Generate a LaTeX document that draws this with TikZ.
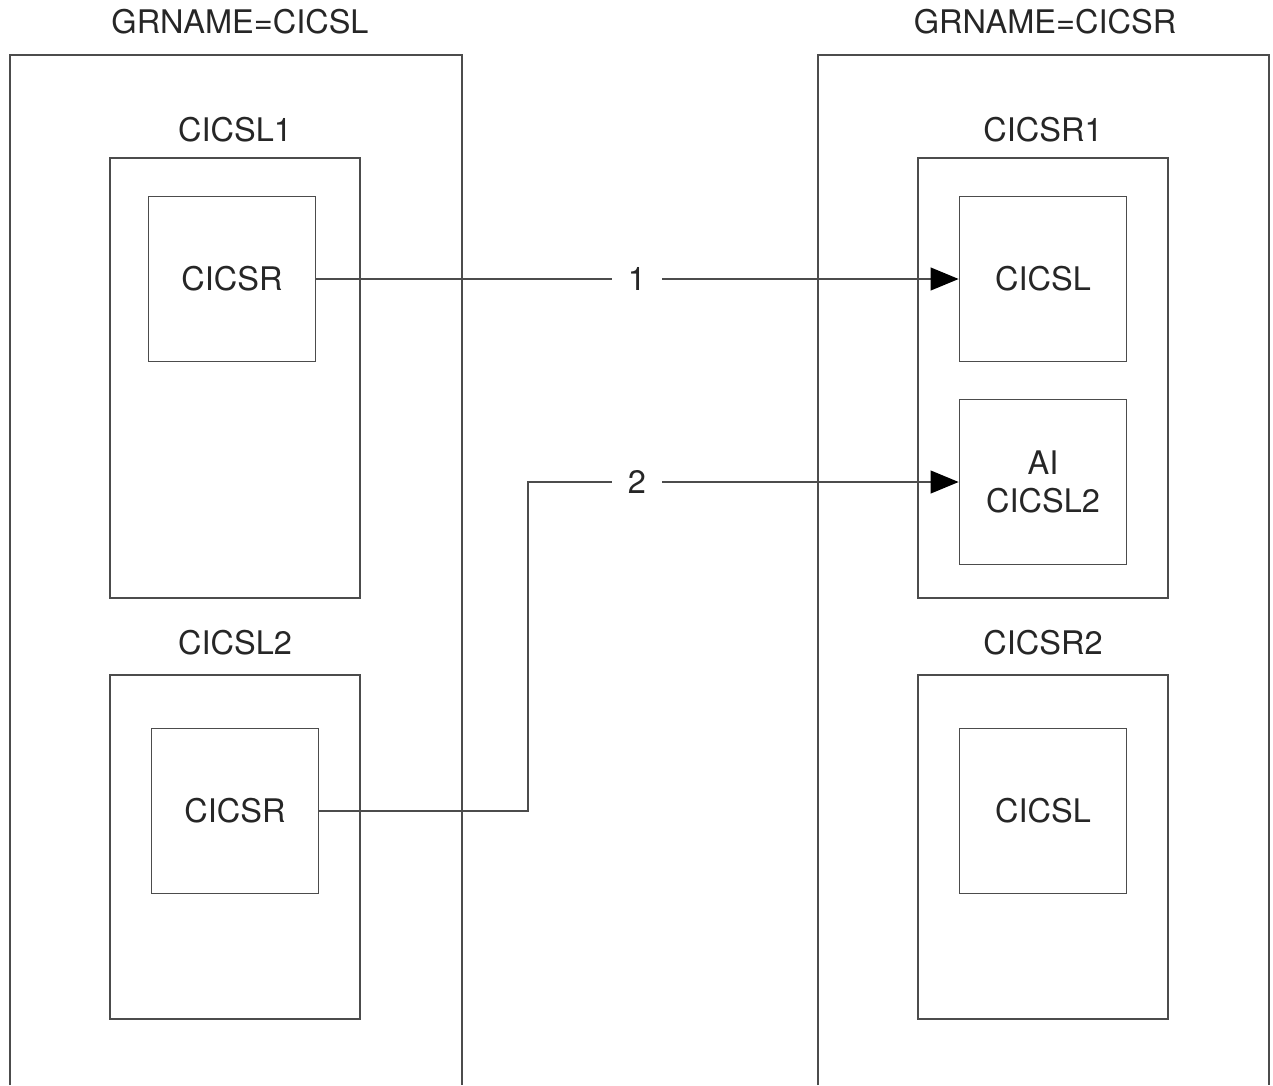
\documentclass[tikz,border=0pt]{standalone}
\usepackage{fontspec}
\setmainfont{TeX Gyre Heros}
\usetikzlibrary{arrows.meta}
\tikzset{
  frame/.style={draw=black!70, line width=1pt},
  sysbox/.style={frame, minimum width=5cm, inner sep=0pt},
  progbox/.style={frame, minimum width=3.34cm, minimum height=3.3cm, inner sep=0pt, align=center},
  flowlabel/.style={minimum width=1cm, inner sep=0pt},
}
\begin{document}
\begin{tikzpicture}[x=0.02cm, y=-0.02cm, >={Triangle[length=16pt,width=13pt,color=black]},
  every node/.style={font=\fontsize{18.5}{22}\selectfont, text=black!85}]
  \useasboundingbox (0,0) rectangle (1273,1085);
  % regions
  \node (grl) at (240,22) {GRNAME=CICSL};
  \node (grr) at (1045,22) {GRNAME=CICSR};
  \draw[frame] (10,1085) |- (462,55) -- (462,1085);
  \draw[frame] (818,1085) |- (1269,55) -- (1269,1085);
  % systems
  \node (lbll1) at (235,130) {CICSL1};
  \node (lbll2) at (235,643) {CICSL2};
  \node (lblr1) at (1043,130) {CICSR1};
  \node (lblr2) at (1043,643) {CICSR2};
  \node[sysbox, minimum height=8.8cm] (cicsl1) at (235,378) {};
  \node[sysbox, minimum height=6.88cm] (cicsl2) at (235,847) {};
  \node[sysbox, minimum height=8.8cm] (cicsr1) at (1043,378) {};
  \node[sysbox, minimum height=6.88cm] (cicsr2) at (1043,847) {};
  % connection definitions
  \node[progbox] (l1r) at (232,279) {CICSR};
  \node[progbox] (l2r) at (235,811) {CICSR};
  \node[progbox] (r1l) at (1043,279) {CICSL};
  \node[progbox] (r1ai) at (1043,482) {AI\\CICSL2};
  \node[progbox] (r2l) at (1043,811) {CICSL};
  % flows
  \node[flowlabel] (n1) at (637,279) {1};
  \node[flowlabel] (n2) at (637,482) {2};
  \coordinate (bend) at (528,811);
  \draw[frame] (l1r.east) -- (n1);
  \draw[frame,->] (n1) -- (r1l.west);
  \draw[frame] (l2r.east) -- (bend) |- (n2.west);
  \draw[frame,->] (n2) -- (r1ai.west);
\end{tikzpicture}
\end{document}
